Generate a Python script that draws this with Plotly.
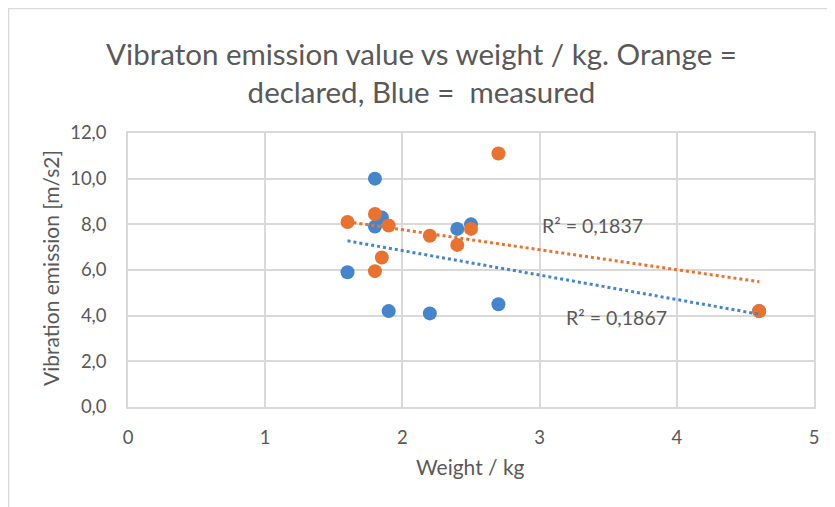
import numpy as np
import plotly.graph_objects as go

weight = [1.6, 1.8, 1.8, 1.85, 1.9, 2.2, 2.4, 2.5, 2.7, 4.6]
measured = [5.9, 10.0, 7.9, 8.3, 4.2, 4.1, 7.8, 8.0, 4.5, 4.2]
declared = [8.1, 8.45, 5.95, 6.55, 7.95, 7.5, 7.1, 7.8, 11.1, 4.2]
r2_labels = ["R² = 0,1837", "R² = 0,1867"]
x_ticks = [0, 1, 2, 3, 4, 5]
y_ticks = [0, 2, 4, 6, 8, 10, 12]

BLUE = "#4485CB"
ORANGE = "#EA7230"
TXT = "#595959"
GRID = "#d9d9d9"
FONT = "Lato, Calibri, sans-serif"

W, H = 827, 499  # page body has an 8px margin
L, R, T, B = 120, 21, 125, 100
PW, PH = W - L - R, H - T - B

def trend(x, y):
    x = np.array(x, float); y = np.array(y, float)
    m, b = np.polyfit(x, y, 1)
    xs = np.array([x.min(), x.max()])
    return xs, m * xs + b

fig = go.Figure()
fig.add_trace(go.Scatter(x=weight, y=measured, mode="markers",
                         marker=dict(color=BLUE, size=14, line=dict(width=0)),
                         name="measured", showlegend=False))
fig.add_trace(go.Scatter(x=weight, y=declared, mode="markers",
                         marker=dict(color=ORANGE, size=14, line=dict(width=0)),
                         name="declared", showlegend=False))
tx, ty = trend(weight, measured)
fig.add_trace(go.Scatter(x=tx, y=ty, mode="lines",
                         line=dict(color=BLUE, width=3, dash="dot"), showlegend=False))
tx, ty = trend(weight, declared)
fig.add_trace(go.Scatter(x=tx, y=ty, mode="lines",
                         line=dict(color=ORANGE, width=3, dash="dot"), showlegend=False))

fig.add_annotation(x=3.382, y=7.93, text=r2_labels[0], showarrow=False,
                   font=dict(family=FONT, size=19.5, color=TXT))
fig.add_annotation(x=3.564, y=3.90, text=r2_labels[1], showarrow=False,
                   font=dict(family=FONT, size=19.5, color=TXT))

# axis titles placed as annotations (pixel-accurate)
fig.add_annotation(xref="paper", yref="paper", x=(462 - L) / PW, y=(T + PH - 458) / PH,
                   text="Weight / kg", showarrow=False, xanchor="center", yanchor="middle",
                   font=dict(family=FONT, size=21, color=TXT))
fig.add_annotation(xref="paper", yref="paper", x=(42 - L) / PW, y=(T + PH - 260) / PH,
                   text="Vibration emission [m/s2]", showarrow=False, textangle=-90,
                   xanchor="center", yanchor="middle",
                   font=dict(family=FONT, size=21, color=TXT))

# chart border (Excel chart area frame), top and left edges visible
fig.add_shape(type="rect", xref="paper", yref="paper",
              x0=(0 - L) / PW, x1=(W + 10 - L) / PW,
              y0=(PH + T - (H + 10)) / PH, y1=(PH + T - 0) / PH,
              line=dict(color=GRID, width=2.5), fillcolor="rgba(0,0,0,0)", layer="below")

fig.update_layout(
    width=W, height=H,
    margin=dict(l=L, r=R, t=T, b=B),
    paper_bgcolor="white", plot_bgcolor="white",
    title=dict(text="Vibraton emission value vs weight / kg. Orange =<br>declared, Blue =  measured",
               x=0.5, xanchor="center", y=1 - 57 / H, yanchor="middle",
               font=dict(family=FONT, size=29.5, color=TXT)),
    font=dict(family=FONT, color=TXT),
    xaxis=dict(range=[0, 5], tickvals=x_ticks, ticktext=[str(v) for v in x_ticks],
               showgrid=True, gridcolor=GRID, gridwidth=1.5, zeroline=False,
               showline=True, linecolor=GRID, linewidth=1.5, mirror=True,
               ticks="", ticklabelstandoff=13,
               tickfont=dict(family=FONT, size=18.5, color=TXT)),
    yaxis=dict(range=[0, 12], tickvals=y_ticks, ticktext=[f"{v:.1f}".replace(".", ",") for v in y_ticks],
               showgrid=True, gridcolor=GRID, gridwidth=1.5, zeroline=False,
               showline=True, linecolor=GRID, linewidth=1.5, mirror=True,
               ticks="", ticklabelstandoff=16,
               tickfont=dict(family=FONT, size=18.5, color=TXT)),
)

fig.write_html("out.html")
